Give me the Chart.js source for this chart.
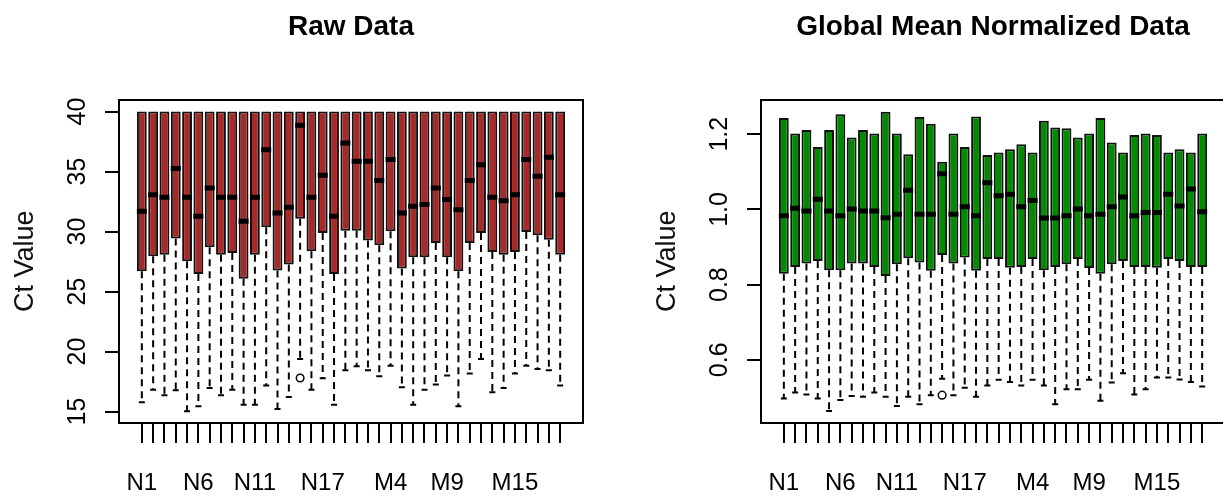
<!DOCTYPE html>
<html>
<head>
<meta charset="utf-8">
<script src="https://cdn.jsdelivr.net/npm/chart.js@4.4.1/dist/chart.umd.min.js"></script>
<style>
  html, body { margin: 0; padding: 0; background: #fff; overflow: hidden; }
  body { width: 1223px; height: 504px; position: relative; }
  canvas { position: absolute; top: 0; }
  #rawChart { left: 0; }
  #normChart { left: 642px; }
</style>
</head>
<body>
<canvas id="rawChart" width="642" height="504"></canvas>
<canvas id="normChart" width="642" height="504"></canvas>
<script>
// sample names (x axis), only some of them get a printed label
const samples = ['N1','N2','N3','N4','N5','N6','N7','N8','N9','N10','N11','N12','N13','N14','N15','N16','N17','N18','N19',
                 'M1','M2','M3','M4','M5','M6','M7','M8','M9','M10','M11','M12','M13','M14','M15','M16','M17','M18','M19'];
const shownLabels = ['N1','N6','N11','N17','M4','M9','M15'];

// Raw Data
const rawLow    = [15.78,16.83,16.36,16.78,15.03,15.44,16.97,16.36,16.83,15.58,15.58,17.17,15.22,16.22,19.39,16.83,17.78,15.58,18.44,
                   18.78,18.44,17.94,18.83,17.03,15.58,16.83,17.25,18.00,15.44,18.17,19.39,16.61,16.97,18.17,18.83,18.56,18.44,17.17];
const rawQ1     = [26.69,27.94,28.08,29.42,27.53,26.47,28.69,28.08,28.22,26.08,28.08,30.36,26.75,27.25,31.08,28.36,29.89,26.47,30.08,
                   30.08,29.25,28.86,30.03,26.92,27.86,27.86,29.06,27.86,26.69,29.06,29.89,28.31,28.08,28.31,29.97,29.69,29.33,28.08];
const rawMedian = [31.70,33.08,32.86,35.25,32.86,31.28,33.64,32.86,32.86,30.86,32.86,36.83,31.56,32.03,38.86,32.86,34.69,31.28,37.39,
                   35.86,35.86,34.25,36.00,31.56,32.11,32.25,33.64,32.67,31.83,34.25,35.58,32.86,32.58,33.08,36.00,34.61,36.19,33.08];
const rawQ3     = [40,40,40,40,40,40,40,40,40,40,40,40,40,40,40,40,40,40,40,
                   40,40,40,40,40,40,40,40,40,40,40,40,40,40,40,40,40,40,40];
const rawOutIdx = [14];
const rawOutVal = [17.8];
const rawTicks  = [15, 20, 25, 30, 35, 40];

// Global Mean Normalized Data
const normLow    = [0.497,0.513,0.508,0.497,0.464,0.493,0.504,0.502,0.513,0.502,0.477,0.502,0.482,0.506,0.550,0.506,0.526,0.502,0.532,
                    0.547,0.541,0.532,0.547,0.532,0.482,0.522,0.522,0.547,0.491,0.540,0.564,0.508,0.522,0.553,0.553,0.548,0.541,0.529];
const normQ1     = [0.829,0.847,0.856,0.863,0.838,0.838,0.856,0.856,0.847,0.823,0.854,0.870,0.859,0.837,0.879,0.856,0.872,0.837,0.868,
                    0.868,0.845,0.847,0.868,0.838,0.847,0.854,0.868,0.844,0.829,0.854,0.863,0.847,0.847,0.845,0.868,0.863,0.847,0.847];
const normMedian = [0.983,1.003,0.996,1.027,0.996,0.983,1.001,0.996,0.996,0.978,0.987,1.051,0.987,0.987,1.095,0.987,1.007,0.983,1.071,
                    1.036,1.040,1.007,1.024,0.977,0.977,0.983,1.001,0.983,0.987,1.007,1.033,0.983,0.992,0.992,1.040,1.009,1.054,0.994];
const normQ3     = [1.243,1.202,1.211,1.166,1.211,1.253,1.191,1.211,1.202,1.260,1.202,1.147,1.246,1.228,1.127,1.202,1.166,1.247,1.145,
                    1.151,1.160,1.173,1.151,1.236,1.218,1.216,1.191,1.202,1.243,1.178,1.151,1.198,1.202,1.198,1.151,1.160,1.151,1.202];
const normOutIdx = [14];
const normOutVal = [0.506];
const normTicks  = [0.6, 0.8, 1.0, 1.2];

const FONT = '"Liberation Sans", Arial, sans-serif';
Chart.defaults.font.family = FONT;
Chart.defaults.color = '#000';

function boxplot(id, cfg) {
  const idx = samples.map((s, i) => i);
  const whiskers = [];
  idx.forEach(i => {
    whiskers.push({ x: i, y: cfg.q1[i] }, { x: i, y: cfg.low[i] }, { x: i, y: null });
  });
  const frame = { display: true, color: '#000', width: 2 };

  return new Chart(document.getElementById(id), {
    type: 'bar',
    data: {
      datasets: [
        { type: 'line', data: whiskers, borderColor: '#000', borderWidth: 2, borderDash: [7, 5],
          pointRadius: 0, spanGaps: false, fill: false, order: 4 },
        { type: 'bar', data: idx.map(i => ({ x: i, y: [cfg.q1[i], cfg.q3[i]] })),
          backgroundColor: cfg.fill, borderColor: '#111', borderWidth: 2, borderSkipped: false,
          barPercentage: 0.87, categoryPercentage: 1, order: 3 },
        { type: 'line', data: idx.map(i => ({ x: i, y: cfg.low[i] })), showLine: false,
          pointStyle: 'line', pointRadius: 3, pointBorderWidth: 2, pointBorderColor: '#000', order: 2 },
        { type: 'line', data: idx.map(i => ({ x: i, y: cfg.median[i] })), showLine: false,
          pointStyle: 'line', pointRadius: 5, pointBorderWidth: 5, pointBorderColor: '#000', order: 1 },
        { type: 'line', data: cfg.outIdx.map((p, k) => ({ x: p, y: cfg.outVal[k] })), showLine: false,
          pointStyle: 'circle', pointRadius: 3.8, pointBorderWidth: 1.5, pointBorderColor: '#000',
          pointBackgroundColor: 'rgba(0,0,0,0)', order: 0 }
      ]
    },
    options: {
      responsive: false,
      animation: false,
      events: [],
      layout: { padding: { right: 59 } },
      plugins: {
        legend: { display: false },
        tooltip: { enabled: false },
        title: {
          display: true, text: cfg.title, fullSize: false, color: '#000',
          font: { family: FONT, size: 28, weight: 'bold' },
          padding: { top: 10, bottom: 56 }
        }
      },
      scales: {
        x: {
          type: 'linear', min: -2.02, max: 39.02, offset: false,
          afterBuildTicks: s => { s.ticks = idx.map(i => ({ value: i })); },
          afterFit: s => { s.height = 81; },
          grid: { offset: false, drawOnChartArea: false, drawTicks: true, tickLength: 20, color: '#000', lineWidth: 2 },
          border: frame,
          ticks: {
            autoSkip: false, maxRotation: 0, padding: 26, color: '#000',
            font: { size: 24 },
            callback: v => shownLabels.includes(samples[v]) ? samples[v] : ''
          }
        },
        x2: {
          type: 'linear', position: 'top', min: -2.02, max: 39.02,
          grid: { display: false, drawTicks: false }, ticks: { display: false }, border: frame
        },
        y: {
          type: 'linear', min: cfg.yMin, max: cfg.yMax, beginAtZero: false,
          afterBuildTicks: s => { s.ticks = cfg.ticks.map(v => ({ value: v })); },
          afterFit: s => { s.width = 119; },
          grid: { drawOnChartArea: false, tickLength: 14, color: '#000', lineWidth: 2 },
          border: frame,
          ticks: {
            autoSkip: false, minRotation: 90, maxRotation: 90, crossAlign: 'center',
            padding: cfg.tickPad, color: '#000', font: { size: 25 },
            callback: cfg.fmt
          },
          title: { display: true, text: 'Ct Value', color: '#111', font: { size: 27 }, padding: { top: 9, bottom: 0 } }
        },
        y2: {
          type: 'linear', position: 'right', min: cfg.yMin, max: cfg.yMax,
          grid: { display: false, drawTicks: false }, ticks: { display: false }, border: frame
        }
      }
    }
  });
}

boxplot('rawChart', {
  title: 'Raw Data', fill: '#A52A2A',
  low: rawLow, q1: rawQ1, median: rawMedian, q3: rawQ3,
  outIdx: rawOutIdx, outVal: rawOutVal,
  ticks: rawTicks, yMin: 14.05, yMax: 41.0, tickPad: 13,
  fmt: v => String(v)
});

boxplot('normChart', {
  title: 'Global Mean Normalized Data', fill: '#008B00',
  low: normLow, q1: normQ1, median: normMedian, q3: normQ3,
  outIdx: normOutIdx, outVal: normOutVal,
  ticks: normTicks, yMin: 0.432, yMax: 1.292, tickPad: 10,
  fmt: v => v.toFixed(1)
});
</script>
</body>
</html>
